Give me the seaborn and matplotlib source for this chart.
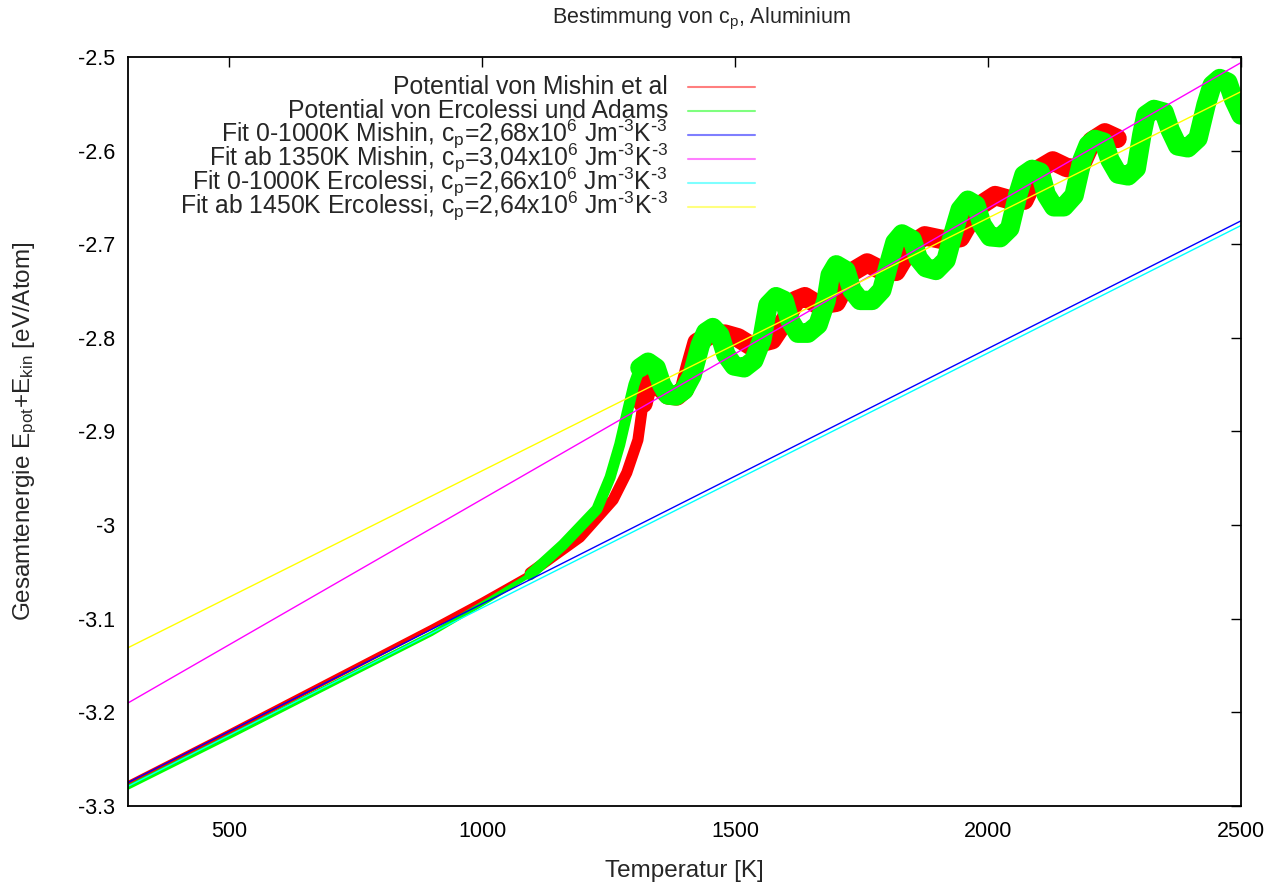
import numpy as np
import matplotlib
matplotlib.use("Agg")
import matplotlib.pyplot as plt
import seaborn as sns

# ---------------- data ----------------
mishin_T = [300, 500, 700, 900, 1000, 1095, 1193, 1259, 1286, 1308, 1318, 1326,
            1335, 1350, 1368, 1385, 1400, 1412, 1425, 1450, 1480, 1506, 1530,
            1573, 1600, 1620, 1638, 1665, 1700, 1730, 1761, 1790, 1818, 1850,
            1875, 1910, 1945, 1980, 2014, 2040, 2071, 2100, 2128, 2155, 2180,
            2205, 2231, 2255]
mishin_E = [-3.276, -3.221, -3.165, -3.109, -3.080, -3.051, -3.013, -2.973,
            -2.944, -2.909, -2.870, -2.852, -2.846, -2.852, -2.861, -2.862,
            -2.855, -2.830, -2.805, -2.797, -2.796, -2.800, -2.808, -2.802,
            -2.780, -2.760, -2.756, -2.765, -2.762, -2.730, -2.720, -2.728,
            -2.729, -2.700, -2.691, -2.695, -2.693, -2.660, -2.648, -2.652,
            -2.653, -2.620, -2.611, -2.618, -2.620, -2.590, -2.581, -2.587]

erc_T = [300, 500, 700, 900, 1016, 1095, 1160, 1227, 1253, 1272, 1288, 1300,
         1312, 1328, 1344, 1355, 1367, 1383, 1399, 1415, 1431, 1442, 1456,
         1470, 1482, 1498, 1518, 1537, 1553, 1565, 1581, 1597, 1608, 1624,
         1644, 1664, 1680, 1688, 1700, 1719, 1731, 1747, 1771, 1790, 1806,
         1816, 1830, 1850, 1862, 1877, 1897, 1917, 1933, 1945, 1960, 1976,
         1988, 2004, 2024, 2043, 2059, 2071, 2087, 2103, 2115, 2130, 2150,
         2170, 2186, 2198, 2211, 2229, 2241, 2257, 2277, 2293, 2304, 2312,
         2328, 2348, 2360, 2375, 2395, 2415, 2431, 2443, 2458, 2474, 2486,
         2500]
erc_E = [-3.280, -3.226, -3.171, -3.116, -3.079, -3.053, -3.021, -2.983,
         -2.949, -2.914, -2.877, -2.850, -2.832, -2.826, -2.832, -2.850,
         -2.861, -2.862, -2.856, -2.840, -2.808, -2.794, -2.789, -2.797,
         -2.818, -2.830, -2.832, -2.824, -2.802, -2.765, -2.756, -2.760,
         -2.781, -2.795, -2.795, -2.786, -2.760, -2.733, -2.722, -2.728,
         -2.749, -2.760, -2.760, -2.749, -2.717, -2.698, -2.689, -2.695,
         -2.715, -2.725, -2.728, -2.717, -2.685, -2.663, -2.653, -2.658,
         -2.679, -2.692, -2.693, -2.683, -2.647, -2.626, -2.620, -2.623,
         -2.647, -2.660, -2.660, -2.648, -2.610, -2.594, -2.588, -2.591,
         -2.610, -2.625, -2.627, -2.619, -2.583, -2.562, -2.556, -2.559,
         -2.578, -2.595, -2.597, -2.587, -2.551, -2.530, -2.523, -2.527,
         -2.546, -2.562]

fit_T = [300, 2500]
fit_mishin_solid = [-3.275, -2.675]
fit_mishin_liquid = [-3.190, -2.506]
fit_erc_solid = [-3.279, -2.680]
fit_erc_liquid = [-3.131, -2.537]

legend_labels = [
    "Potential von Mishin et al",
    "Potential von Ercolessi und Adams",
    r"Fit 0-1000K Mishin, c$_p$=2,68x10$^6$ Jm$^{\text{-}3}$K$^{\text{-}3}$",
    r"Fit ab 1350K Mishin, c$_p$=3,04x10$^6$ Jm$^{\text{-}3}$K$^{\text{-}3}$",
    r"Fit 0-1000K Ercolessi, c$_p$=2,66x10$^6$ Jm$^{\text{-}3}$K$^{\text{-}3}$",
    r"Fit ab 1450K Ercolessi, c$_p$=2,64x10$^6$ Jm$^{\text{-}3}$K$^{\text{-}3}$",
]
x_ticks = [500, 1000, 1500, 2000, 2500]
y_ticks = [-3.3, -3.2, -3.1, -3.0, -2.9, -2.8, -2.7, -2.6, -2.5]
y_tick_labels = ["-3.3", "-3.2", "-3.1", "-3", "-2.9", "-2.8", "-2.7", "-2.6", "-2.5"]

# ---------------- style ----------------
sns.set_style("white")
plt.rcParams['font.family'] = ['Liberation Sans', 'DejaVu Sans']
plt.rcParams['mathtext.default'] = 'regular'
plt.rcParams['font.size'] = 16

LABEL_FS = 17.5
KEY_FS = 17.8
TITLE_FS = 15.5
TICK_FS = 15.5

colors = {"red": "#ff0000", "green": "#00ff00", "blue": "#0000ff",
          "magenta": "#ff00ff", "cyan": "#00ffff", "yellow": "#ffff00"}
legend_colors = ["#ff7f7f", "#7fff7f", "#7f7fff", "#ff7fff", "#7fffff", "#ffff7f"]

fig, ax = plt.subplots(figsize=(12.86, 8.85), dpi=100)
fig.subplots_adjust(left=0.0995, right=0.965, top=0.9356, bottom=0.0893)


def band(T, E, color):
    T = np.asarray(T, dtype=float)
    E = np.asarray(E, dtype=float)
    parts = [(T <= 1160, 3.5), ((T >= 1095) & (T <= 1330), 8), (T >= 1312, 14)]
    for mask, lw in parts:
        sns.lineplot(x=T[mask], y=E[mask], sort=False, estimator=None, color=color,
                     lw=lw, ax=ax, solid_capstyle='round', solid_joinstyle='round')


band(mishin_T, mishin_E, colors["red"])
band(erc_T, erc_E, colors["green"])

for vals, c in [(fit_mishin_solid, "blue"), (fit_mishin_liquid, "magenta"),
                (fit_erc_solid, "cyan"), (fit_erc_liquid, "yellow")]:
    sns.lineplot(x=fit_T, y=vals, sort=False, estimator=None, color=colors[c],
                 lw=1.0, ax=ax)

ax.set_xlim(300, 2500)
ax.set_ylim(-3.3, -2.5)
ax.set_xticks(x_ticks)
ax.set_xticklabels([str(t) for t in x_ticks])
ax.set_yticks(y_ticks)
ax.set_yticklabels(y_tick_labels)
ax.tick_params(direction='in', length=7, width=1, top=True, right=True,
               labelsize=TICK_FS, colors='black')
ax.tick_params(axis='x', pad=11)
ax.tick_params(axis='y', pad=9)
for s in ax.spines.values():
    s.set_color('black')
    s.set_linewidth(1.3)

ax.set_xlabel("Temperatur [K]", fontsize=LABEL_FS, labelpad=13)
ax.set_ylabel("Gesamtenergie E$_{pot}$+E$_{kin}$ [eV/Atom]", fontsize=LABEL_FS, labelpad=28)
ax.set_title("Bestimmung von c$_p$, Aluminium", fontsize=TITLE_FS, pad=24, x=0.515)

# manual gnuplot-style key (text right aligned, sample to the right)
ax_h_px = 749.0
for i, (lab, lc) in enumerate(zip(legend_labels, legend_colors)):
    row_px = 87 + i * 24.0
    yf = 1 - (row_px - 57) / ax_h_px
    ybase = 1 - (row_px + 7 - 57) / ax_h_px
    ax.text(0.4852, ybase, lab, transform=ax.transAxes, ha='right', va='baseline',
            fontsize=KEY_FS)
    ax.plot([0.5031, 0.5633], [yf, yf], transform=ax.transAxes, color=lc, lw=1.5)

fig.savefig("out.png", dpi=100, facecolor='white')
